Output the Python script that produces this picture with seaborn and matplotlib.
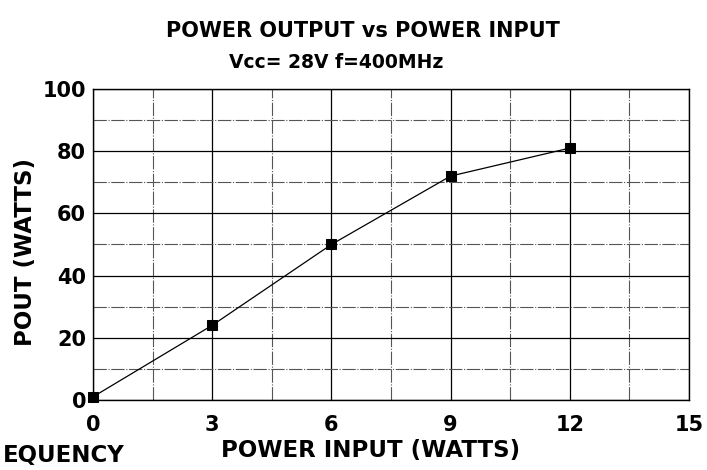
import pandas as pd
import matplotlib.pyplot as plt
import seaborn as sns
from matplotlib.ticker import MultipleLocator

# Values
power_in = [0, 3, 6, 9, 12]
power_out = [1, 24, 50, 72, 81]
x_ticks = [0, 3, 6, 9, 12, 15]
y_ticks = [0, 20, 40, 60, 80, 100]

df = pd.DataFrame({'Pin': power_in, 'Pout': power_out})

sns.set_style("white")
plt.rcParams['font.family'] = ['DejaVu Sans']
plt.rcParams['font.weight'] = 'bold'
plt.rcParams['text.color'] = 'black'
plt.rcParams['axes.labelcolor'] = 'black'
plt.rcParams['xtick.color'] = 'black'
plt.rcParams['ytick.color'] = 'black'

fig = plt.figure(figsize=(7.07, 4.70), dpi=100)
ax = fig.add_axes([0.1315, 0.149, 0.843, 0.6616])

sns.lineplot(data=df, x='Pin', y='Pout', ax=ax, color='black', linewidth=0.9,
             marker='s', markersize=7, markeredgecolor='black', clip_on=False, zorder=5)

ax.set_xlim(0, 15)
ax.set_ylim(0, 100)
ax.set_xticks(x_ticks)
ax.set_yticks(y_ticks)
ax.xaxis.set_minor_locator(MultipleLocator(1.5))
ax.yaxis.set_minor_locator(MultipleLocator(10))
ax.grid(which='major', color='black', linewidth=0.9, linestyle='-')
ax.grid(which='minor', color='#555555', linewidth=0.8, linestyle=(0, (12, 1.5, 1, 1.5)))
ax.tick_params(which='both', length=0, labelsize=15)
ax.tick_params(axis='x', pad=11)
ax.tick_params(axis='y', pad=5)
for lab in ax.get_xticklabels() + ax.get_yticklabels():
    lab.set_fontweight('bold')
for s in ax.spines.values():
    s.set_color('black')
    s.set_linewidth(1.0)

ax.set_xlabel('POWER INPUT (WATTS)', fontsize=16.5, fontweight='bold', va='center')
ax.xaxis.set_label_coords(0.465, -0.164)
ax.set_ylabel('POUT (WATTS)', fontsize=16.5, fontweight='bold', va='center')
ax.yaxis.set_label_coords(-0.114, 0.476)

fig.text(0.514, 0.935, 'POWER OUTPUT vs POWER INPUT', ha='center', va='center',
         fontsize=15, fontweight='bold')
fig.text(0.475, 0.868, 'Vcc= 28V f=400MHz', ha='center', va='center',
         fontsize=13.5, fontweight='bold')
fig.text(0.004, 0.006, 'EQUENCY', ha='left', va='bottom',
         fontsize=16.5, fontweight='bold')

plt.savefig('out.png', dpi=100)
